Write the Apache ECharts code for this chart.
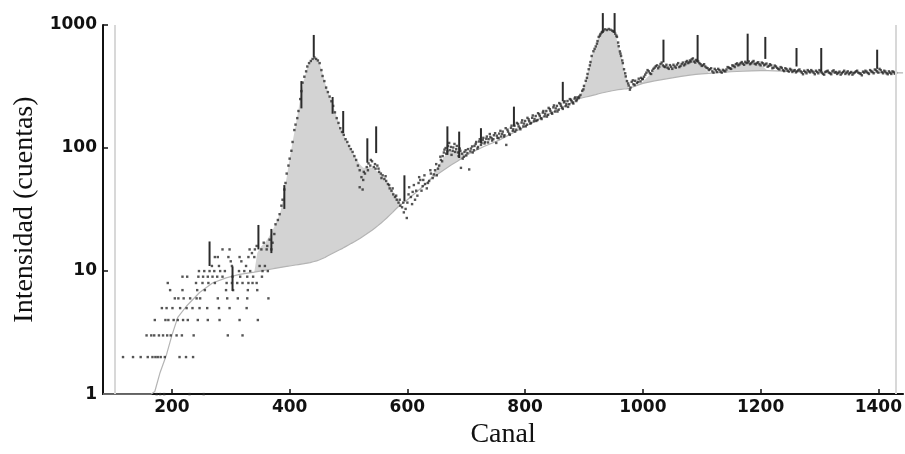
<!DOCTYPE html>
<html>
<head>
<meta charset="utf-8">
<script src="https://cdn.jsdelivr.net/npm/echarts@6/dist/echarts.min.js"></script>
<style>
  html, body { margin: 0; padding: 0; background: #ffffff; }
  #chart { width: 905px; height: 454px; }
</style>
</head>
<body>
<div id="chart"></div>
<script>
// Axis ticks
const xTickLabels = [200, 400, 600, 800, 1000, 1200, 1400];
const yTickLabels = [1, 10, 100, 1000];
// Region-of-interest limits (channels)
const roiLimits = [103, 1430];

// Measured counts per channel: [channel, counts]
const lowRegion = [
  [174,1],[180,1],[187,1],[230,1],[254,1],
  [117,2],[134,2],[147,2],[159,2],[167,2],[172,2],[176,2],[181,2],[188,2],[213,2],[224,2],[236,2],
  [157,3],[165,3],[170,3],[178,3],[185,3],[192,3],[198,3],[208,3],[217,3],[237,3],[295,3],[320,3],
  [171,4],[189,4],[194,4],[203,4],[210,4],[219,4],[227,4],[244,4],[261,4],[281,4],[315,4],[346,4],
  [183,5],[191,5],[201,5],[214,5],[225,5],[235,5],[247,5],[260,5],[280,5],[298,5],[327,5],
  [205,6],[211,6],[220,6],[231,6],[242,6],[248,6],[278,6],[294,6],[312,6],[328,6],[364,6],
  [197,7],[218,7],[243,7],[256,7],[292,7],[304,7],[329,7],[345,7],
  [193,8],[241,8],[252,8],[262,8],[273,8],[293,8],[302,8],[311,8],[320,8],[330,8],[337,8],[344,8],
  [218,9],[226,9],[245,9],[253,9],[261,9],[269,9],[277,9],[286,9],[303,9],[316,9],[328,9],[338,9],[353,9],
  [246,10],[255,10],[264,10],[272,10],[282,10],[290,10],[314,10],[323,10],[333,10],[354,10],[363,10],
  [268,11],[280,11],[302,11],[326,11],[349,11],[358,11],
  [300,12],[318,12],[273,13],[278,13],[296,13],[315,13],[330,13],[340,13],[336,14],
  [286,15],[298,15],[332,15],[341,15],[352,15],[361,15],[369,15],
  [344,16],[362,16],[356,17],[371,17],[366,18],[374,20]
];
const peak441 = [
  [376,24],[380,26],[383,29],[386,34],[388,38],[391,46],[393,52],[395,62],[398,72],[400,82],
  [403,95],[405,112],[408,140],[410,155],[413,175],[415,200],[418,250],[420,290],[422,340],[425,380],
  [428,420],[430,460],[433,490],[436,510],[439,530],[442,545],[445,530],[448,515],[451,490],[454,430],
  [456,385],[459,350],[462,310],[465,285],[468,262],[471,240],[474,220],[477,195],[480,175],[483,160],
  [486,145],[489,135],[492,128],[495,118],[498,112],[501,104],[504,98],[507,93],[510,86],[513,80],
  [516,72],[519,66],[519,48],[522,58],[524,46],[525,55],[528,62],[531,70],[534,75],[537,72],[540,78],
  [543,70],[546,68],[549,72],[552,64],[555,62],[558,60],[561,56],[564,54],[567,51],[570,47],
  [573,45],[576,42],[579,40],[582,38],[585,36],[588,34],[591,33],[593,36],[594,30],[597,32],[599,27],
  [526,64],[533,66],[538,80],[545,74],[551,68],[556,57],[563,59],[569,50],[575,47],[581,41],[587,38]
];
const rise = [
  [600,36],[603,48],[606,40],[609,44],[613,38],[615,45],[619,52],[620,58],[624,45],[627,55],
  [630,51],[633,47],[637,54],[640,62],[643,57],[647,66],[650,60],[654,72],[657,80],[660,86],
  [663,97],[666,90],[669,104],[672,96],[675,88],[678,101],[681,93],[684,104],[687,86],[690,95],
  [691,69],[694,82],[697,93],[700,87],[703,98],[705,67],[707,94],[710,103],[713,96],[716,108],
  [719,99],[722,113],[725,106],[728,116],[731,109],[734,119],[737,111],[741,123],[744,115],[747,127],
  [751,110],[753,121],[756,131],[759,124],[762,136],[765,127],[768,106],[770,141],[773,131],[776,146],
  [779,138],[782,152],[785,141],[788,157],[791,146],[794,161],[797,150],[800,166],[803,155],[806,171],
  [809,158],[812,176],[815,165],[818,182],[821,169],[824,188],[827,175],[830,194],[833,181],[836,200],
  [839,186],[842,207],[845,193],[848,214],[851,198],[854,220],[857,205],[860,228],[863,213],[866,235],
  [869,219],[872,241],[875,227],[878,247],[881,234],[884,252],[887,241],[889,258],
  [602,42],[608,35],[611,50],[617,41],[622,55],[626,49],[629,60],[635,52],[639,66],[645,61],
  [649,74],[652,68],[656,85],[659,78],[662,92],[665,100],[668,94],[671,110],[674,102],[677,95],
  [680,108],[683,98],[686,92],[689,99],[693,90],[696,85],[699,96],[702,91],[708,99],[711,92],
  [714,104],[717,112],[720,102],[723,118],[726,110],[729,121],[732,112],[735,124],[738,118],[740,130],
  [743,120],[746,118],[749,132],[752,126],[755,120],[758,138],[761,130],[764,124],[767,145],[771,136],
  [774,128],[777,152],[780,142],[783,136],[786,160],[789,150],[792,142],[795,168],[798,158],[801,150],
  [804,176],[807,165],[810,160],[813,184],[816,172],[819,166],[822,192],[825,182],[828,172],[831,200],
  [834,190],[837,180],[840,212],[843,200],[846,190],[849,222],[852,210],[855,198],[858,232],[861,220],
  [864,208],[867,240],[870,228],[873,216],[876,250],[879,240],[882,230],[885,258],[888,248]
];
const peak940 = [
  [891,255],[894,270],[897,292],[900,320],[903,352],[906,400],[908,437],[911,500],[913,560],[916,612],
  [920,670],[923,740],[925,800],[928,845],[930,868],[933,900],[936,922],[939,910],[942,928],[945,915],
  [948,900],[951,880],[953,850],[956,800],[959,672],[961,610],[963,560],[966,490],[968,437],[971,382],
  [973,350],[976,322],[979,310],[981,345],[984,330],[987,352],[990,338],[993,366],[996,348],[999,362],
  [892,262],[899,300],[905,372],[910,470],[918,640],[922,705],[927,820],[931,880],[950,890],[955,820],
  [958,720],[962,585],[965,515],[970,405],[975,335],[978,298],[983,355],[986,325],[992,345],[997,372]
];
const plateau = [
  [1002,380],[1006,410],[1010,420],[1014,400],[1018,440],[1022,462],[1026,445],[1030,482],[1034,470],[1038,455],
  [1042,450],[1046,472],[1050,440],[1054,460],[1058,476],[1062,455],[1066,482],[1070,470],[1073,500],[1077,490],
  [1080,515],[1083,526],[1087,505],[1090,520],[1094,505],[1098,480],[1102,470],[1106,460],[1110,445],[1114,437],
  [1118,420],[1122,440],[1126,415],[1130,430],[1134,410],[1138,425],[1142,435],[1146,450],[1150,440],[1154,466],
  [1158,480],[1162,470],[1166,490],[1170,485],[1174,502],[1178,495],[1182,480],[1186,500],[1190,485],[1194,492],
  [1198,480],[1202,495],[1206,470],[1210,486],[1214,465],[1218,470],[1222,450],[1226,460],[1230,440],[1234,455],
  [1238,430],[1242,445],[1246,425],[1250,440],[1254,415],[1258,430],[1262,420],[1266,435],[1270,410],[1274,425],
  [1278,405],[1282,420],[1286,430],[1290,410],[1294,425],[1298,405],[1302,420],[1306,400],[1310,415],[1314,425],
  [1318,405],[1322,420],[1326,410],[1330,400],[1334,418],[1338,405],[1342,425],[1346,410],[1350,398],[1354,415],
  [1358,405],[1362,420],[1366,410],[1370,400],[1374,418],[1378,425],[1382,408],[1386,430],[1390,415],[1394,435],
  [1398,420],[1402,440],[1406,415],[1410,425],[1414,405],[1418,420],[1422,400],[1426,415],[1430,408],
  [1000,365],[1004,395],[1008,430],[1012,405],[1016,425],[1020,450],[1024,470],[1028,460],[1032,495],[1036,460],
  [1040,475],[1044,440],[1048,458],[1052,475],[1056,450],[1060,490],[1064,465],[1068,495],[1072,480],[1075,510],
  [1079,498],[1082,505],[1085,535],[1089,495],[1092,512],[1096,490],[1100,465],[1104,480],[1108,450],[1112,430],
  [1116,445],[1120,410],[1124,428],[1128,440],[1132,418],[1136,432],[1140,420],[1144,455],[1148,445],[1152,470],
  [1156,455],[1160,488],[1164,478],[1168,500],[1172,475],[1176,490],[1180,505],[1184,488],[1188,510],[1192,478],
  [1196,498],[1200,470],[1204,488],[1208,478],[1212,458],[1216,480],[1220,445],[1224,468],[1228,448],[1232,435],
  [1236,448],[1240,422],[1244,438],[1248,418],[1252,432],[1256,425],[1260,412],[1264,428],[1268,420],[1272,398],
  [1276,415],[1280,430],[1284,412],[1288,420],[1292,398],[1296,415],[1300,430],[1304,410],[1308,395],[1312,420],
  [1316,410],[1320,398],[1324,428],[1328,415],[1332,408],[1336,395],[1340,415],[1344,400],[1348,420],[1352,408],
  [1356,395],[1360,412],[1364,425],[1368,405],[1372,390],[1376,410],[1380,418],[1384,400],[1388,422],[1392,405],
  [1396,428],[1400,410],[1404,430],[1408,405],[1412,418],[1416,398],[1420,410],[1424,420],[1428,402]
];

// Continuum (background) and total peak fit, sampled on the same channels
const fitChannels = [
  83,110,140,165,171,180,191,200,210,225,247,269,292,315,
  340,345,350,355,360,365,370,375,380,385,390,395,400,405,410,415,420,425,430,435,440,443,446,
  450,455,460,465,470,475,480,485,490,495,500,505,510,515,520,525,530,535,540,545,550,555,560,
  565,570,575,580,585,590,600,625,640,655,665,675,685,695,705,730,756,800,841,870,
  891,896,903,908,913,920,925,930,936,942,948,953,958,963,968,972,976,
  1000,1020,1035,1050,1065,1080,1090,1100,1112,1140,1150,1170,1185,1200,1212,1250,1300,1350,1400,1442
];
const background = [
  1,1,1,1,1.05,1.5,2.1,3,4.2,5.2,6.7,8,8.8,9.4,
  9.8,9.9,10,10.1,10.2,10.3,10.4,10.5,10.6,10.7,10.8,10.9,11,11.1,11.2,11.3,11.4,11.5,11.6,11.7,11.9,12,12.1,
  12.3,12.6,12.9,13.3,13.7,14.1,14.5,14.9,15.3,15.8,16.3,16.8,17.3,17.9,18.5,19.2,19.9,20.7,21.5,22.4,23.4,24.5,25.7,
  27,28.5,30,31.8,33.5,35,38,48,56,63,68,73,78,84,90,103,116,150,190,222,
  251,255,260,263,267,272,276,280,284,288,292,295,298,300,302,303,305,
  335,352,362,372,382,392,397,401,405,414,417,421,423,425,425,420,415,412,410,408
];
const peakFit = [
  1,1,1,1,1.05,1.5,2.1,3,4.2,5.2,6.7,8,8.8,9.4,
  9.8,14,15.5,16.5,17.5,19,21,23.5,26.5,31,42,58,82,112,150,205,285,370,450,505,535,542,532,
  495,420,340,288,248,212,180,152,133,118,106,96,87,79,73,69,69,70,69,67,64,61,57,
  53,49,45,41,37.5,35,38,48,58,75,88,95,96,90,90,103,116,150,190,222,
  251,285,350,437,560,670,800,870,900,910,890,840,700,560,437,370,305,
  345,430,470,455,470,500,510,480,405,414,460,490,495,480,425,420,415,412,410,408
];

// Peak markers: [channel, lower counts, upper counts]
const peakMarkers = [
  [264,11,17.4],[303,6.9,10.9],[347,15,23.7],[369,14,22],[391,32,50],[420,210,350],[441,550,830],
  [473,190,260],[491,132,200],[532,76,120],[547,91,150],[595,37,60],[668,88,150],[688,83,136],
  [725,110,145],[781,150,217],[864,240,345],[932,864,1250],[952,864,1250],[1035,497,760],
  [1093,505,830],[1178,505,850],[1208,530,800],[1261,460,650],[1303,420,650],[1398,440,630]
];

const spectrum = lowRegion.concat(peak441, rise, peak940, plateau);

const tickFont = { fontFamily: 'DejaVu Sans', fontWeight: 'bold', fontSize: 17, color: '#111' };
const nameFont = { fontFamily: 'Liberation Serif', fontSize: 28, color: '#111' };

const chart = echarts.init(document.getElementById('chart'), null, { renderer: 'canvas' });
chart.setOption({
  animation: false,
  backgroundColor: '#ffffff',
  grid: { left: 103, right: 0, top: 25, bottom: 54, containLabel: false },
  xAxis: {
    type: 'value',
    min: 83,
    max: 1442,
    name: 'Canal',
    nameLocation: 'middle',
    nameGap: 25,
    nameTextStyle: nameFont,
    axisLine: { show: true, onZero: false, lineStyle: { color: '#111', width: 2 } },
    axisTick: { show: true, inside: true, length: 5, customValues: xTickLabels, lineStyle: { color: '#111', width: 1.5 } },
    axisLabel: Object.assign({ margin: 5, customValues: xTickLabels, formatter: v => String(v) }, tickFont),
    splitLine: { show: false }
  },
  yAxis: {
    type: 'log',
    logBase: 10,
    min: 1,
    max: 1000,
    name: 'Intensidad (cuentas)',
    nameLocation: 'middle',
    nameGap: 64,
    nameTextStyle: nameFont,
    axisLine: { show: true, onZero: false, lineStyle: { color: '#111', width: 2 } },
    axisTick: { show: true, inside: true, length: 5, customValues: yTickLabels, lineStyle: { color: '#111', width: 1.5 } },
    axisLabel: Object.assign({ margin: 6, customValues: yTickLabels, formatter: v => String(v) }, tickFont),
    splitLine: { show: false },
    minorTick: { show: false }
  },
  series: [
    {
      // shaded peak areas between the total fit and the continuum
      type: 'custom',
      coordinateSystem: 'cartesian2d',
      silent: true,
      z: 1,
      data: [[500, 10]],
      renderItem: function (params, api) {
        const upper = fitChannels.map((c, i) => api.coord([c, peakFit[i]]));
        const lower = fitChannels.map((c, i) => api.coord([c, background[i]])).reverse();
        return {
          type: 'polygon',
          shape: { points: upper.concat(lower) },
          style: { fill: '#d3d3d3', stroke: null }
        };
      }
    },
    {
      // continuum
      type: 'line',
      z: 2,
      data: fitChannels.map((c, i) => [c, background[i]]),
      showSymbol: false,
      smooth: false,
      lineStyle: { color: '#b4b4b4', width: 1.2 },
      silent: true,
      markLine: {
        silent: true,
        symbol: 'none',
        label: { show: false },
        lineStyle: { color: '#d8d8d8', width: 2, type: 'solid' },
        data: roiLimits.map(c => ({ xAxis: c }))
      }
    },
    {
      // measured channels
      type: 'scatter',
      z: 3,
      data: spectrum,
      symbol: 'rect',
      symbolSize: 2.4,
      itemStyle: { color: '#2a2a2a' },
      silent: true
    },
    {
      // peak position markers
      type: 'custom',
      coordinateSystem: 'cartesian2d',
      z: 4,
      clip: false,
      silent: true,
      data: peakMarkers,
      encode: { x: 0, y: [1, 2] },
      renderItem: function (params, api) {
        const a = api.coord([api.value(0), api.value(1)]);
        const b = api.coord([api.value(0), api.value(2)]);
        return {
          type: 'line',
          shape: { x1: a[0], y1: a[1], x2: b[0], y2: b[1] },
          style: { stroke: '#2b2b2b', lineWidth: 2 }
        };
      }
    }
  ]
});
</script>
</body>
</html>
